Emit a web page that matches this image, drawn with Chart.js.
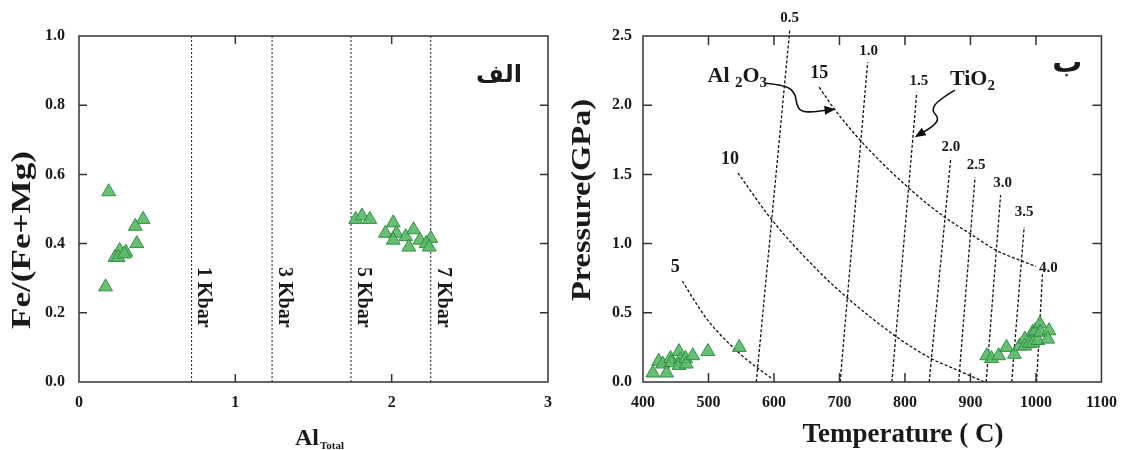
<!DOCTYPE html>
<html><head><meta charset="utf-8">
<script src="https://cdn.jsdelivr.net/npm/chart.js@4.4.0/dist/chart.umd.min.js"></script>
<style>
html,body{margin:0;padding:0;background:#fff;}
#wrap{position:relative;width:1128px;height:450px;overflow:hidden;}
canvas{position:absolute;top:0;}
</style></head><body>
<div id="wrap">
<canvas id="left" width="565" height="450" style="left:0"></canvas>
<canvas id="right" width="563" height="450" style="left:565px"></canvas>
</div>
<script>
// ---------- LEFT PANEL DATA ----------
const alTotal = [0.19,0.41,0.36,0.37,0.26,0.30,0.23,0.25,0.29,0.17, 1.77,1.81,1.86,1.96,2.01,2.03,2.01,2.09,2.14,2.11,2.18,2.25,2.22,2.24];
const feRatio = [0.55,0.47,0.45,0.40,0.38,0.375,0.36,0.36,0.37,0.275, 0.47,0.48,0.47,0.43,0.46,0.43,0.41,0.42,0.44,0.39,0.41,0.415,0.40,0.39];
const kbarAl = [0.72,1.235,1.74,2.25];
const kbarLabels = ['1 Kbar','3 Kbar','5 Kbar','7 Kbar'];
const leftXTicks = [0,1,2,3];
const leftYTicks = [0,0.2,0.4,0.6,0.8,1.0];

// ---------- RIGHT PANEL DATA ----------
const tempC = [415,424,430,436,442,443,455,457,455,465,466,476,499,547, 925,932,943,955,967,975,983,983,990,995,995,1003,999,1006,1007,1020,1018];
const pressGPa = [0.065,0.15,0.13,0.065,0.17,0.14,0.22,0.16,0.12,0.17,0.13,0.19,0.22,0.25, 0.19,0.17,0.19,0.25,0.20,0.26,0.31,0.26,0.28,0.28,0.36,0.30,0.37,0.42,0.36,0.37,0.31];
// TiO2 isopleths (near-vertical lines): top end and base temperature
const tio2Labels = ['0.5','1.0','1.5','2.0','2.5','3.0','3.5','4.0'];
const tio2TopT = [624,743,818,870,907,946,982,1010];
const tio2TopP = [2.54,2.31,2.09,1.62,1.48,1.35,1.12,0.78];
const tio2BaseT = [573,701,780,837,882,924,963,1001];
// Al2O3 isopleths (curves)
const al2o3Labels = ['5','10','15'];
const al5T = [460,481,500,549,598];
const al5P = [0.73,0.57,0.44,0.20,0.02];
const al10T = [545,597,664,709,786,840,883,921];
const al10P = [1.51,1.17,0.82,0.62,0.33,0.17,0.08,0.0];
const al15T = [669,691,731,806,861,900,940,978,1000];
const al15P = [2.13,1.98,1.75,1.40,1.19,1.07,0.95,0.875,0.835];
const rightXTicks = [400,500,600,700,800,900,1000,1100];
const rightYTicks = [0,0.5,1.0,1.5,2.0,2.5];

// annotation arrows (data units)
const al2o3Arrow = [[586.6,2.159],[619.4,2.145],[632.8,2.080],[634.3,2.007],[640.3,1.957],[656.7,1.949],[679.1,1.964],[694.0,1.971]];
const tio2Arrow = [[876.1,2.109],[850.7,2.036],[840.3,1.964],[852.2,1.906],[843.3,1.848],[822.4,1.790],[814.9,1.768]];
const al2o3TextAt = [498.5,2.167];
const tio2TextAt = [868.7,2.145];

// ---------- STYLE ----------
const SERIF = "'Liberation Serif','Times New Roman',serif";
const ARAB = "'DejaVu Sans','Noto Sans',sans-serif";
const INK = '#1a1a1a';
const TRI_FILL = 'rgba(92,186,104,0.92)';
const TRI_EDGE = '#2f8f42';

Chart.defaults.font.family = SERIF;
Chart.defaults.font.weight = 'bold';
Chart.defaults.color = INK;
Chart.defaults.animation = false;

const zip = (xs, ys) => xs.map((x,i)=>({x, y: ys[i]}));

function scale(min, max, ticksArr, fmt, pad, fitKey, fitVal){
  return {
    type:'linear', min, max,
    afterBuildTicks: s => { s.ticks = ticksArr.map(v=>({value:v})); },
    afterFit: s => { s[fitKey] = fitVal; },
    ticks:{ font:{size:16, weight:'bold', family:SERIF}, color:INK, padding:pad, callback:fmt, maxRotation:0, autoSkip:false },
    grid:{ display:false, drawTicks:false },
    border:{ display:false }
  };
}

function frameAndTicks(chart, xt, yt, len){
  const {ctx, chartArea:a, scales:{x, y}} = chart;
  ctx.save();
  ctx.strokeStyle = '#333'; ctx.lineWidth = 1.5;
  ctx.strokeRect(a.left, a.top, a.right-a.left, a.bottom-a.top);
  ctx.beginPath();
  xt.forEach(v=>{ const p = x.getPixelForValue(v);
    ctx.moveTo(p, a.bottom); ctx.lineTo(p, a.bottom-len);
    ctx.moveTo(p, a.top); ctx.lineTo(p, a.top+len); });
  yt.forEach(v=>{ const p = y.getPixelForValue(v);
    ctx.moveTo(a.left, p); ctx.lineTo(a.left+len, p);
    ctx.moveTo(a.right, p); ctx.lineTo(a.right-len, p); });
  ctx.stroke();
  ctx.restore();
}

function text(ctx, s, x, y, font, align='center', base='middle', rot=0, stretch=1){
  ctx.save(); ctx.translate(x,y); if(rot) ctx.rotate(rot); if(stretch!==1) ctx.scale(stretch,1);
  ctx.font = font; ctx.fillStyle = INK; ctx.textAlign = align; ctx.textBaseline = base;
  ctx.fillText(s, 0, 0); ctx.restore();
}

// ---------- LEFT CHART ----------
const leftDatasets = [
  { label:'samples', data: zip(alTotal, feRatio), pointStyle:'triangle', pointRadius:8,
    backgroundColor:TRI_FILL, borderColor:TRI_EDGE, borderWidth:1, showLine:false }
];
kbarAl.forEach((a,i)=>leftDatasets.push({
  label:kbarLabels[i], data:[{x:a,y:0},{x:a,y:1}], showLine:true, pointRadius:0,
  borderColor:'#333', borderWidth:1.1, borderDash:[2,2]
}));

new Chart(document.getElementById('left'), {
  type:'scatter',
  data:{ datasets: leftDatasets },
  options:{
    responsive:false,
    layout:{ padding:{ top:36, right:17, left:0, bottom:0 } },
    plugins:{ legend:{display:false}, tooltip:{enabled:false} },
    scales:{
      x: scale(0,3,leftXTicks, v=>String(v), 11, 'height', 68),
      y: scale(0,1,leftYTicks, v=>v.toFixed(1), 14, 'width', 79)
    }
  },
  plugins:[{
    id:'leftDeco',
    afterDatasetsDraw(chart){
      const {ctx, chartArea:a, scales:{x,y}} = chart;
      frameAndTicks(chart, [1,2], [0.2,0.4,0.6,0.8], 8);
      kbarAl.forEach((v,i)=>{
        text(ctx, kbarLabels[i], x.getPixelForValue(v)+12, y.getPixelForValue(0.245),
             "bold 20px "+SERIF, 'center', 'middle', Math.PI/2);
      });
      text(ctx, 'Fe/(Fe+Mg)', 23, 240, "bold 27px "+SERIF, 'center', 'middle', -Math.PI/2, 1.3);
      // Al_Total
      ctx.save();
      ctx.font = "bold 24px "+SERIF; const w1 = ctx.measureText('Al').width;
      ctx.font = "bold 11px "+SERIF; const w2 = ctx.measureText('Total').width;
      ctx.restore();
      const cx = (a.left+a.right)/2 + 6, x0 = cx - (w1+w2+1)/2;
      text(ctx, 'Al', x0, 445, "bold 24px "+SERIF, 'left', 'alphabetic');
      text(ctx, 'Total', x0+w1+1, 449, "bold 11px "+SERIF, 'left', 'alphabetic');
      text(ctx, 'الف', a.right-49, a.top+40, "bold 24px "+ARAB, 'center', 'middle');
    }
  }]
});

// ---------- RIGHT CHART ----------
const rightDatasets = [
  { label:'samples', data: zip(tempC, pressGPa), pointStyle:'triangle', pointRadius:8,
    backgroundColor:TRI_FILL, borderColor:TRI_EDGE, borderWidth:1, showLine:false }
];
tio2Labels.forEach((lab,i)=>rightDatasets.push({
  label:'TiO2 '+lab, data:[{x:tio2BaseT[i],y:0},{x:tio2TopT[i],y:tio2TopP[i]}],
  showLine:true, pointRadius:0, borderColor:'#111', borderWidth:1.3, borderDash:[3,2], clip:false
}));
[[al5T,al5P],[al10T,al10P],[al15T,al15P]].forEach((c,i)=>rightDatasets.push({
  label:'Al2O3 '+al2o3Labels[i], data: zip(c[0], c[1]), showLine:true, pointRadius:0,
  borderColor:'#111', borderWidth:1.3, borderDash:[3,2], cubicInterpolationMode:'monotone'
}));

const tio2LabelOffset = [[0,-12],[1,-11],[2,-12],[0,-11],[1,-12],[2,-12],[0,-15],[6,-6]];
const alLabelOffset = [[-7,-14],[-8,-14],[0,-14]];

function drawArrow(ctx, pts, x, y){
  const P = pts.map(p=>[x.getPixelForValue(p[0]), y.getPixelForValue(p[1])]);
  const tip = P[P.length-1], body = P.slice(0,-1);
  ctx.save(); ctx.strokeStyle = '#111'; ctx.fillStyle = '#111'; ctx.lineWidth = 1.6;
  ctx.beginPath(); ctx.moveTo(body[0][0], body[0][1]);
  for(let i=1;i<body.length-1;i++){
    const mx=(body[i][0]+body[i+1][0])/2, my=(body[i][1]+body[i+1][1])/2;
    ctx.quadraticCurveTo(body[i][0], body[i][1], mx, my);
  }
  const last = body[body.length-1];
  ctx.lineTo(last[0], last[1]); ctx.stroke();
  const ang = Math.atan2(tip[1]-last[1], tip[0]-last[0]);
  const L=11, W=4.5;
  ctx.beginPath(); ctx.moveTo(tip[0], tip[1]);
  ctx.lineTo(tip[0]-L*Math.cos(ang)+W*Math.sin(ang), tip[1]-L*Math.sin(ang)-W*Math.cos(ang));
  ctx.lineTo(tip[0]-L*Math.cos(ang)-W*Math.sin(ang), tip[1]-L*Math.sin(ang)+W*Math.cos(ang));
  ctx.closePath(); ctx.fill();
  ctx.beginPath(); ctx.moveTo(last[0], last[1]); ctx.lineTo(tip[0]-L*0.8*Math.cos(ang), tip[1]-L*0.8*Math.sin(ang)); ctx.stroke();
  ctx.restore();
}

function subText(ctx, parts, x, y){
  let cx = x;
  parts.forEach(([s, sub])=>{
    const f = sub ? "bold 15px "+SERIF : "bold 22px "+SERIF;
    ctx.save(); ctx.font = f; const w = ctx.measureText(s).width; ctx.restore();
    text(ctx, s, cx, sub ? y+5 : y, f, 'left', 'alphabetic');
    cx += w;
  });
}

new Chart(document.getElementById('right'), {
  type:'scatter',
  data:{ datasets: rightDatasets },
  options:{
    responsive:false,
    layout:{ padding:{ top:36, right:17, left:0, bottom:0 } },
    plugins:{ legend:{display:false}, tooltip:{enabled:false} },
    scales:{
      x: scale(400,1100,rightXTicks, v=>String(v), 11, 'height', 68),
      y: scale(0,2.5,rightYTicks, v=>v.toFixed(1), 11, 'width', 78)
    }
  },
  plugins:[{
    id:'rightDeco',
    afterDatasetsDraw(chart){
      const {ctx, chartArea:a, scales:{x,y}} = chart;
      frameAndTicks(chart, [500,600,700,800,900,1000], [0.5,1.0,1.5,2.0], 9);
      tio2Labels.forEach((lab,i)=>{
        const o = tio2LabelOffset[i];
        text(ctx, lab, x.getPixelForValue(tio2TopT[i])+o[0], y.getPixelForValue(tio2TopP[i])+o[1],
             "bold 15px "+SERIF, 'center', 'middle');
      });
      [[al5T,al5P],[al10T,al10P],[al15T,al15P]].forEach((c,i)=>{
        const o = alLabelOffset[i];
        text(ctx, al2o3Labels[i], x.getPixelForValue(c[0][0])+o[0], y.getPixelForValue(c[1][0])+o[1],
             "bold 18px "+SERIF, 'center', 'middle');
      });
      drawArrow(ctx, al2o3Arrow, x, y);
      drawArrow(ctx, tio2Arrow, x, y);
      subText(ctx, [['Al ',false],['2',true],['O',false],['3',true]], x.getPixelForValue(al2o3TextAt[0]), y.getPixelForValue(al2o3TextAt[1]));
      subText(ctx, [['TiO',false],['2',true]], x.getPixelForValue(tio2TextAt[0]), y.getPixelForValue(tio2TextAt[1]));
      text(ctx, 'ب', a.right-34, a.top+28, "bold 30px "+ARAB, 'center', 'middle');
      text(ctx, 'Pressure(GPa)', a.left-60, 200, "bold 27px "+SERIF, 'center', 'middle', -Math.PI/2, 1.2);
      text(ctx, 'Temperature ( C)', a.left+260, 442, "bold 27px "+SERIF, 'center', 'alphabetic');
    }
  }]
});
</script>
</body></html>
